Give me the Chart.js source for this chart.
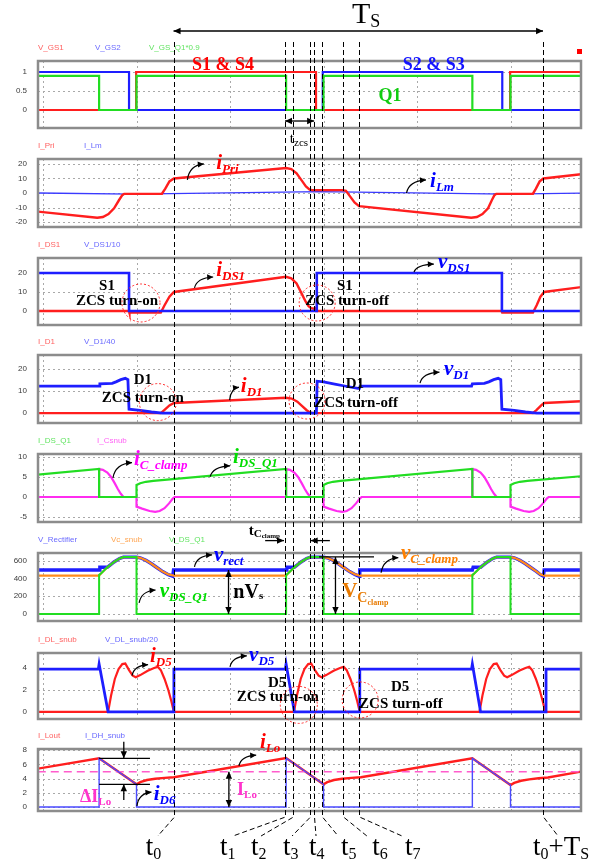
<!DOCTYPE html>
<html><head><meta charset="utf-8">
<script src="https://cdn.jsdelivr.net/npm/chart.js@4.4.0/dist/chart.umd.min.js"></script>
<style>
html,body{margin:0;padding:0;background:#fff;}
#wrap{position:relative;width:611px;height:865px;overflow:hidden;background:#fff;}
#wrap canvas{position:absolute;left:0;}
</style></head><body><div id="wrap"></div>
<script>
// ---------- time axis (µs) ----------
const T_MIN = -0.134, T_MAX = 14.385;
const gridTimes = [0, 2.5, 5, 7.5, 10, 12.5];
// switching instants t0 ... t7, t0+Ts
const eventSubs  = ['0', '1', '2', '3', '4', '5', '6', '7', '0'];
const eventTimes = [3.49, 6.47, 6.68, 7.13, 7.25, 7.46, 8.02, 8.45, 13.37];

// ---------- gate signals ----------
const vgs1T = [-0.14, 2.49, 2.49, 7.3, 7.3, 12.49, 12.49, 14.4];
const vgs1V = [0, 0, 1, 1, 0, 0, 1, 1];
const vgs2T = [-0.14, 2.3, 2.3, 7.48, 7.48, 12.28, 12.28, 14.4];
const vgs2V = [1, 1, 0, 0, 1, 1, 0, 0];
const vgsQ1T = [-0.14, 1.5, 1.5, 2.5, 2.5, 6.5, 6.5, 7.5, 7.5, 11.48, 11.48, 12.5, 12.5, 14.4];
const vgsQ1V = [0.9, 0.9, 0, 0, 0.9, 0.9, 0, 0, 0.9, 0.9, 0, 0, 0.9, 0.9];

// ---------- primary / magnetizing current ----------
const iPriT = [-0.14, 1.45, 1.6, 1.75, 1.9, 2.03, 2.12, 2.17, 3.18, 3.27, 3.38, 3.5, 6.5, 6.64, 6.78, 6.92, 7.03, 7.13, 7.2, 8.0, 8.1, 8.2, 8.33, 8.45, 11.45, 11.6, 11.75, 11.9, 12.0, 12.07, 12.12, 13.1, 13.18, 13.28, 13.38, 14.4];
const iPriV = [-12.8, -17, -16.5, -14.5, -10.5, -5, -1.5, -0.6, -0.5, 3, 8, 10, 17.2, 16.5, 13.5, 8.5, 4.5, 2.3, 2, 2, 1.5, -2, -6.5, -9, -17, -16.5, -14.5, -10.5, -5, -1.5, -0.6, -0.5, 3, 8, 10, 13];
const iLmT = [-0.14, 2.4, 7.4, 12.4, 14.4];
const iLmV = [0, -0.8, 0.9, -0.8, -0.1];

// ---------- switch S1 ----------
const vDs1T = [-0.14, 2.3, 2.3, 7.32, 7.32, 12.27, 12.27, 14.4];
const vDs1V = [20, 20, 0, 0, 20, 20, 0, 0];
const iDs1T = [-0.14, 2.3, 2.31, 3.15, 3.25, 3.38, 3.5, 6.5, 6.64, 6.78, 6.92, 7.02, 7.1, 7.17, 7.24, 7.3, 7.31, 12.27, 12.28, 13.1, 13.2, 13.3, 13.4, 14.4];
const iDs1V = [0, 0, -0.8, -0.8, 3, 7.5, 10, 18, 17.2, 14.5, 9, 5, 2.5, 1.5, 1.2, 1.6, 0, 0, -0.8, -0.8, 3, 7.5, 10, 12.6];

// ---------- rectifier diode D1 ----------
const vD1T = [-0.14, 1.5, 1.52, 1.85, 1.95, 2.08, 2.2, 2.27, 2.3, 2.6, 2.9, 3.2, 7.31, 7.33, 7.5, 7.8, 8.1, 8.42, 8.46, 8.48, 11.46, 11.48, 11.8, 11.92, 12.05, 12.17, 12.24, 12.27, 12.6, 12.9, 13.2, 14.4];
const vD1V = [12.3, 12.3, 13.3, 13.5, 14.2, 15.2, 15.8, 15.2, 1.8, 1.2, 0.5, 0, 0, 14.5, 14.2, 13.2, 12.2, 11.2, 11.2, 12.3, 12.3, 13.3, 13.5, 14.2, 15.2, 15.8, 15.2, 1.8, 1.2, 0.5, 0, 0];
const iD1T = [-0.14, 3.15, 3.25, 3.38, 3.5, 6.5, 6.65, 6.8, 6.93, 7.05, 7.14, 7.2, 13.1, 13.2, 13.32, 13.4, 14.4];
const iD1V = [0, 0, 1.5, 3.5, 4.6, 7, 6.6, 5.2, 3.2, 1.3, 0.3, 0, 0, 1.5, 3.5, 4.6, 5.4];

// ---------- clamp switch Q1 / clamp capacitor ----------
const iDsQ1T = [-0.14, 1.5, 1.5, 2.5, 2.5, 2.6, 2.75, 2.95, 3.1, 6.5, 6.5, 7.5, 7.5, 7.6, 7.75, 7.95, 8.1, 11.48, 11.48, 12.5, 12.5, 12.6, 12.75, 12.95, 13.1, 14.4];
const iDsQ1V = [5.6, 7, 0, 0, 3, 3.45, 3.8, 4.05, 4.15, 7, 0, 0, 3, 3.45, 3.8, 4.05, 4.15, 7, 0, 0, 3, 3.45, 3.8, 4.05, 4.15, 5.2];
const iCsnT = [-0.14, 1.5, 1.5, 1.6, 1.72, 1.82, 1.92, 2.0, 2.08, 2.15, 2.5, 2.5, 2.65, 2.85, 3.0, 3.12, 3.25, 3.37, 3.47, 3.52,
  6.5, 6.5, 6.6, 6.72, 6.82, 6.92, 7.0, 7.08, 7.15, 7.5, 7.5, 7.65, 7.85, 8.0, 8.12, 8.25, 8.37, 8.47, 8.52,
  11.48, 11.48, 11.58, 11.7, 11.8, 11.9, 11.98, 12.06, 12.13, 12.5, 12.5, 12.65, 12.85, 13.0, 13.12, 13.25, 13.37, 13.47, 13.52, 14.4];
const iCsnV = [0, 0, 7, 6.8, 6.1, 5.0, 3.4, 2.0, 0.8, 0, 0, -2.4, -2.9, -3.5, -3.7, -3.5, -2.8, -1.6, -0.4, 0,
  0, 7, 6.8, 6.1, 5.0, 3.4, 2.0, 0.8, 0, 0, -2.4, -2.9, -3.5, -3.7, -3.5, -2.8, -1.6, -0.4, 0,
  0, 7, 6.8, 6.1, 5.0, 3.4, 2.0, 0.8, 0, 0, -2.4, -2.9, -3.5, -3.7, -3.5, -2.8, -1.6, -0.4, 0, 0];

// ---------- rectifier / clamp voltages ----------
const vRectT = [-0.14, 1.5, 1.52, 1.72, 1.9, 2.05, 2.15, 2.5, 2.6, 2.75, 2.9, 3.05, 3.2, 3.35, 3.47, 3.49,
  6.5, 6.52, 6.72, 6.9, 7.05, 7.15, 7.5, 7.6, 7.75, 7.9, 8.05, 8.2, 8.35, 8.45, 8.47,
  11.48, 11.5, 11.7, 11.88, 12.03, 12.13, 12.5, 12.6, 12.75, 12.9, 13.05, 13.2, 13.3, 13.38, 13.4, 14.4];
const vRectV = [495, 495, 525, 525, 585, 625, 640, 640, 632, 605, 565, 520, 477, 442, 425, 495,
  495, 525, 525, 585, 625, 640, 640, 632, 605, 565, 520, 477, 442, 425, 495,
  495, 525, 525, 585, 625, 640, 640, 632, 605, 565, 520, 477, 442, 425, 495, 495];
const vcSnT = [-0.14, 1.5, 1.55, 1.72, 1.9, 2.05, 2.15, 2.5, 2.6, 2.75, 2.9, 3.05, 3.2, 3.35, 3.5,
  6.5, 6.55, 6.72, 6.9, 7.05, 7.15, 7.5, 7.6, 7.75, 7.9, 8.05, 8.2, 8.35, 8.47,
  11.48, 11.53, 11.7, 11.88, 12.03, 12.13, 12.5, 12.6, 12.75, 12.9, 13.05, 13.2, 13.3, 13.4, 14.4];
const vcSnV = [432, 432, 455, 525, 585, 625, 640, 640, 632, 605, 565, 520, 477, 445, 432,
  432, 455, 525, 585, 625, 640, 640, 632, 605, 565, 520, 477, 445, 432,
  432, 455, 525, 585, 625, 640, 640, 632, 605, 565, 520, 477, 445, 432, 432];
const vDsQ1T = [-0.14, 1.5, 1.5, 1.55, 1.72, 1.9, 2.05, 2.15, 2.5, 2.5, 6.5, 6.5, 6.55, 6.72, 6.9, 7.05, 7.15, 7.5, 7.5, 11.48, 11.48, 11.53, 11.7, 11.88, 12.03, 12.13, 12.5, 12.5, 14.4];
const vDsQ1V = [0, 0, 440, 455, 525, 585, 625, 640, 640, 0, 0, 440, 455, 525, 585, 625, 640, 640, 0, 0, 440, 455, 525, 585, 625, 640, 640, 0, 0];

// ---------- output snubber diode D5 ----------
const vDlT = [-0.14, 1.48, 1.5, 1.74, 3.5, 3.5, 6.48, 6.5, 6.72, 8.47, 8.47, 11.46, 11.48, 11.7, 13.45, 13.45, 14.4];
const vDlV = [3.9, 3.9, 4.35, 0, 0, 3.9, 3.9, 4.35, 0, 0, 3.9, 3.9, 4.35, 0, 0, 3.9, 3.9];
const iDlT = [-0.14, 1.74, 1.82, 1.92, 2.02, 2.12, 2.2, 2.3, 2.4, 2.48, 2.6, 2.8, 2.97, 3.07, 3.15, 3.25, 3.35, 3.43, 3.5,
  6.71, 6.79, 6.89, 6.99, 7.09, 7.17, 7.27, 7.37, 7.45, 7.57, 7.77, 7.94, 8.04, 8.12, 8.22, 8.32, 8.4, 8.47,
  11.67, 11.75, 11.85, 11.95, 12.05, 12.13, 12.23, 12.33, 12.41, 12.53, 12.73, 12.9, 13.0, 13.08, 13.18, 13.28, 13.36, 13.43, 14.4];
const iDlV = [0, 0, 1.5, 3.0, 3.9, 4.35, 4.4, 3.8, 3.3, 3.15, 3.35, 3.75, 4.0, 4.1, 3.8, 3.0, 2.0, 1.0, 0,
  0, 1.5, 3.0, 3.9, 4.35, 4.4, 3.8, 3.3, 3.15, 3.35, 3.75, 4.0, 4.1, 3.8, 3.0, 2.0, 1.0, 0,
  0, 1.5, 3.0, 3.9, 4.35, 4.4, 3.8, 3.3, 3.15, 3.35, 3.75, 4.0, 4.1, 3.8, 3.0, 2.0, 1.0, 0, 0];

// ---------- output inductor ----------
const iLoutT = [-0.14, 1.5, 2.5, 2.6, 2.78, 3.0, 3.25, 3.5, 6.5, 7.5, 7.6, 7.78, 8.0, 8.25, 8.5, 11.48, 12.5, 12.6, 12.78, 13.0, 13.25, 13.5, 14.4];
const iLoutV = [5.4, 6.85, 3.2, 3.5, 3.8, 3.98, 4.1, 4.2, 6.9, 3.2, 3.5, 3.8, 3.98, 4.1, 4.2, 6.85, 3.1, 3.4, 3.7, 3.9, 4.05, 4.15, 5.0];
const iDhT = [-0.14, 1.5, 1.5, 2.5, 2.5, 6.5, 6.5, 7.5, 7.5, 11.48, 11.48, 12.5, 12.5, 14.4];
const iDhV = [0, 0, 6.85, 3.2, 0, 0, 6.9, 3.2, 0, 0, 6.85, 3.1, 0, 0];
const iLoAvgT = [-0.14, 14.4];
const iLoAvgV = [4.95, 4.95];

// ---------- y tick values / labels ----------
const p1Ticks = [0, 0.5, 1],           p1Labels = ['0', '0.5', '1'];
const p2Ticks = [-20, -10, 0, 10, 20], p2Labels = ['-20', '-10', '0', '10', '20'];
const p3Ticks = [0, 10, 20],           p3Labels = ['0', '10', '20'];
const p4Ticks = [0, 10, 20],           p4Labels = ['0', '10', '20'];
const p5Ticks = [-5, 0, 5, 10],        p5Labels = ['-5', '0', '5', '10'];
const p6Ticks = [0, 200, 400, 600],    p6Labels = ['0', '200', '400', '600'];
const p7Ticks = [0, 2, 4],             p7Labels = ['0', '2', '4'];
const p8Ticks = [0, 2, 4, 6, 8],       p8Labels = ['0', '2', '4', '6', '8'];

// ---------- styling ----------
const RED = '#ff1e1e', BLUE = '#1e1eff', GREEN = '#22dd22', MAG = '#ff2cf0', ORANGE = '#ff8a1c', PINK = '#ff5ccc';
const SERIF = '"Liberation Serif","Times New Roman",serif';
const SANS = '"Liberation Sans",Arial,sans-serif';

function pts(t, v) { return t.map((x, i) => ({ x: x, y: v[i] })); }
function line(t, v, color, width, extra) {
  return Object.assign({ data: pts(t, v), borderColor: color, borderWidth: width, pointRadius: 0, fill: false, tension: 0 }, extra || {});
}

// first dataset in each list is drawn on top
const panels = [
  { top: 61, bottom: 128, min: -0.474, max: 1.29, ticks: p1Ticks, labels: p1Labels,
    legend: [['V_GS1', '#ff6262', 38], ['V_GS2', '#6a6aff', 95], ['V_GS_Q1*0.9', '#62e462', 149]],
    sets: [line(vgsQ1T, vgsQ1V, GREEN, 2.2), line(vgs2T, vgs2V, BLUE, 2.2), line(vgs1T, vgs1V, RED, 2.2)] },
  { top: 159, bottom: 227, min: -23.4, max: 23.4, ticks: p2Ticks, labels: p2Labels,
    legend: [['I_Pri', '#ff6262', 38], ['I_Lm', '#6a6aff', 84]],
    sets: [line(iPriT, iPriV, RED, 2.4), line(iLmT, iLmV, '#3a3aff', 1.3)] },
  { top: 258, bottom: 325, min: -7.4, max: 27.9, ticks: p3Ticks, labels: p3Labels,
    legend: [['I_DS1', '#ff6262', 38], ['V_DS1/10', '#6a6aff', 84]],
    sets: [line(vDs1T, vDs1V, BLUE, 2.6), line(iDs1T, iDs1V, RED, 2.4)] },
  { top: 355, bottom: 423, min: -4.5, max: 26.4, ticks: p4Ticks, labels: p4Labels,
    legend: [['I_D1', '#ff6262', 38], ['V_D1/40', '#6a6aff', 84]],
    sets: [line(vD1T, vD1V, BLUE, 2.8), line(iD1T, iD1V, RED, 2.4)] },
  { top: 454, bottom: 522, min: -6.25, max: 10.75, ticks: p5Ticks, labels: p5Labels,
    legend: [['I_DS_Q1', '#62e462', 38], ['I_Csnub', '#ff62f4', 97]],
    sets: [line(iDsQ1T, iDsQ1V, GREEN, 2.2), line(iCsnT, iCsnV, MAG, 2.2)] },
  { top: 553, bottom: 621, min: -79, max: 686, ticks: p6Ticks, labels: p6Labels,
    legend: [['V_Rectifier', '#6a6aff', 38], ['Vc_snub', '#ffa552', 111], ['V_DS_Q1', '#62e462', 169]],
    sets: [line(vDsQ1T, vDsQ1V, GREEN, 2), line(vcSnT, vcSnV, ORANGE, 2.2), line(vRectT, vRectV, BLUE, 3.4)] },
  { top: 653, bottom: 719, min: -0.64, max: 5.36, ticks: p7Ticks, labels: p7Labels,
    legend: [['I_DL_snub', '#ff6262', 38], ['V_DL_snub/20', '#6a6aff', 105]],
    sets: [line(vDlT, vDlV, BLUE, 2.8), line(iDlT, iDlV, RED, 2.2)] },
  { top: 749, bottom: 811, min: -0.56, max: 8.17, ticks: p8Ticks, labels: p8Labels,
    legend: [['I_Lout', '#ff6262', 38], ['I_DH_snub', '#6a6aff', 85]],
    sets: [line(iDhT, iDhV, '#4a4aff', 1.4), line(iLoAvgT, iLoAvgV, PINK, 1.5, { borderDash: [8, 5] }), line(iLoutT, iLoutV, RED, 2.4)] }
];

// dotted grid and tick labels behind the traces, grey frame on top of them
const panelDeco = {
  id: 'panelDeco',
  beforeDatasetsDraw(chart, args, opts) {
    const ctx = chart.ctx, a = chart.chartArea, xs = chart.scales.x, ys = chart.scales.y;
    const p = opts.panel;
    ctx.save();
    ctx.strokeStyle = '#a9a9a9'; ctx.lineWidth = 1; ctx.setLineDash([2, 3]);
    gridTimes.forEach(t => {
      const px = Math.round(xs.getPixelForValue(t)) + 0.5;
      ctx.beginPath(); ctx.moveTo(px, a.top); ctx.lineTo(px, a.bottom); ctx.stroke();
    });
    p.ticks.forEach(v => {
      const py = Math.round(ys.getPixelForValue(v)) + 0.5;
      ctx.beginPath(); ctx.moveTo(a.left, py); ctx.lineTo(a.right, py); ctx.stroke();
    });
    ctx.setLineDash([]);
    ctx.fillStyle = '#3a3a3a'; ctx.font = `8px ${SANS}`; ctx.textAlign = 'right'; ctx.textBaseline = 'middle';
    p.ticks.forEach((v, i) => ctx.fillText(p.labels[i], a.left - 11, ys.getPixelForValue(v)));
    ctx.restore();
  },
  afterDatasetsDraw(chart) {
    const ctx = chart.ctx, a = chart.chartArea;
    ctx.save();
    ctx.strokeStyle = '#8c8c8c'; ctx.lineWidth = 2.5;
    ctx.strokeRect(a.left, a.top, a.right - a.left, a.bottom - a.top);
    ctx.restore();
  }
};

const wrap = document.getElementById('wrap');
const charts = [], tops = [];
panels.forEach(p => {
  const cv = document.createElement('canvas');
  const top = p.top - 8, h = p.bottom - p.top + 16;
  cv.width = 611; cv.height = h;
  cv.style.top = top + 'px'; cv.style.width = '611px'; cv.style.height = h + 'px';
  wrap.appendChild(cv);
  tops.push(top);
  charts.push(new Chart(cv, {
    type: 'line',
    data: { datasets: p.sets },
    options: {
      responsive: false, maintainAspectRatio: false, animation: false, events: [],
      layout: { padding: { left: 38, right: 30, top: 8, bottom: 8 } },
      plugins: { legend: { display: false }, tooltip: { enabled: false }, panelDeco: { panel: p } },
      scales: {
        x: { type: 'linear', display: false, min: T_MIN, max: T_MAX },
        y: { type: 'linear', display: false, min: p.min, max: p.max }
      }
    },
    plugins: [panelDeco]
  }));
});

// ---------- annotation layer ----------
const ov = document.createElement('canvas');
ov.width = 611; ov.height = 865; ov.style.top = '0px'; ov.style.zIndex = 10;
wrap.appendChild(ov);
const g = ov.getContext('2d');
const xs = charts[0].scales.x;
const X = t => xs.getPixelForValue(t);
const Y = (k, v) => tops[k] + charts[k].scales.y.getPixelForValue(v);

const fR = s => `${s}px ${SERIF}`, fB = s => `bold ${s}px ${SERIF}`, fBI = s => `bold italic ${s}px ${SERIF}`;

function rich(x, y, parts, color, align) {
  g.save(); g.fillStyle = color; g.textBaseline = 'alphabetic';
  let w = 0;
  parts.forEach(p => { g.font = p[1]; w += g.measureText(p[0]).width; });
  let cx = align === 'center' ? x - w / 2 : x;
  parts.forEach(p => { g.font = p[1]; g.fillText(p[0], cx, y + (p[2] || 0)); cx += g.measureText(p[0]).width; });
  g.restore();
}
function head(x, y, ang, len, w) {
  len = len || 7; w = w || 3.2;
  const c = Math.cos(ang), s = Math.sin(ang);
  g.beginPath(); g.moveTo(x, y);
  g.lineTo(x - len * c + w * s, y - len * s - w * c);
  g.lineTo(x - len * c - w * s, y - len * s + w * c);
  g.closePath(); g.fill();
}
function arrow(x1, y1, x2, y2, both) {
  g.save(); g.strokeStyle = '#000'; g.fillStyle = '#000'; g.lineWidth = 1.3; g.setLineDash([]);
  g.beginPath(); g.moveTo(x1, y1); g.lineTo(x2, y2); g.stroke();
  const a = Math.atan2(y2 - y1, x2 - x1);
  head(x2, y2, a);
  if (both) head(x1, y1, a + Math.PI);
  g.restore();
}
function hook(k, t1, v1, t2, v2) {
  const x1 = X(t1), y1 = Y(k, v1), x2 = X(t2), y2 = Y(k, v2);
  const cx = x1 + (x2 - x1) * 0.12, cy = y2 + (y1 - y2) * 0.08;
  g.save(); g.strokeStyle = '#000'; g.fillStyle = '#000'; g.lineWidth = 1.2;
  g.beginPath(); g.moveTo(x1, y1); g.quadraticCurveTo(cx, cy, x2, y2); g.stroke();
  head(x2, y2, Math.atan2(y2 - cy, x2 - cx), 6, 3);
  g.restore();
}
function ring(k, t, v, r) {
  g.save(); g.strokeStyle = '#ff2a2a'; g.lineWidth = 1; g.setLineDash([2, 2]);
  g.beginPath(); g.arc(X(t), Y(k, v), r, 0, Math.PI * 2); g.stroke(); g.restore();
}
function wave(k, t, v, main, sub, color) {
  rich(X(t), Y(k, v), [[main, fBI(21)], [sub, fBI(13), 4]], color);
}
function note(k, t, v, text) { rich(X(t), Y(k, v), [[text, fB(15)]], '#000', 'center'); }

// legends above each panel
panels.forEach(p => {
  g.font = `8px ${SANS}`; g.textBaseline = 'middle';
  p.legend.forEach(([txt, col, x]) => { g.fillStyle = col; g.fillText(txt, x, p.top - 13); });
});
g.fillStyle = '#ff0000'; g.fillRect(577, 49, 5, 5);

// switching period
rich(352, 23, [['T', fR(30)], ['S', fR(18), 4]], '#000');
arrow(X(eventTimes[0]), 31, X(eventTimes[8]), 31, true);

// dashed markers of the switching instants and their labels
const labelT = [2.75, 4.73, 5.56, 6.42, 7.11, 7.97, 8.8, 9.68, 13.1];
const linkT  = [3.07, 5.08, 5.83, 6.66, 7.3, 7.89, 8.66, 9.6, 13.77];
g.save(); g.strokeStyle = '#000'; g.lineWidth = 1; g.setLineDash([5, 3]);
eventTimes.forEach((t, i) => {
  const x = Math.round(X(t)) + 0.5;
  g.beginPath(); g.moveTo(x, 42); g.lineTo(x, 817); g.lineTo(X(linkT[i]), 836); g.stroke();
});
g.restore();
eventTimes.forEach((t, i) => {
  const parts = [['t', fR(27)], [eventSubs[i], fR(16), 4]];
  if (i === 8) parts.push(['+T', fR(27)], ['S', fR(16), 4]);
  rich(X(labelT[i]), 855, parts, '#000');
});

// panel 1
rich(X(4.81), Y(0, 1.05), [['S1 & S4', fB(18)]], '#ff0000', 'center');
rich(X(10.45), Y(0, 1.05), [['S2 & S3', fB(18)]], '#1414ff', 'center');
rich(X(9.28), Y(0, 0.24), [['Q1', fB(18)]], '#11cc11', 'center');
arrow(X(eventTimes[1]), Y(0, -0.29), X(eventTimes[4]), Y(0, -0.29), true);
rich(X(6.6), Y(0, -0.87), [['t', fR(15)], ['zcs', fR(11), 3]], '#000');

// panel 2
wave(1, 4.63, 16.6, 'i', 'Pri', '#ff0000'); hook(1, 3.86, 9, 4.3, 20);
wave(1, 10.35, 4.1, 'i', 'Lm', '#0000ff'); hook(1, 9.72, 0, 10.24, 9);

// panel 3
wave(2, 4.63, 18.6, 'i', 'DS1', '#ff0000'); hook(2, 4.05, 12.1, 4.55, 17.9);
wave(2, 10.56, 22.5, 'v', 'DS1', '#0000ff'); hook(2, 9.92, 20.5, 10.45, 24.7);
note(2, 1.71, 11, 'S1'); note(2, 1.98, 3.2, 'ZCS turn-on'); ring(2, 2.62, 4.2, 19);
note(2, 8.07, 11, 'S1'); note(2, 8.13, 3.2, 'ZCS turn-off'); ring(2, 7.33, 4.2, 18);

// panel 4
wave(3, 5.29, 9.5, 'i', 'D1', '#ff0000'); hook(3, 4.99, 5.9, 5.24, 11.8);
wave(3, 10.72, 17.3, 'v', 'D1', '#0000ff'); hook(3, 10.08, 13.6, 10.6, 18.6);
note(3, 2.67, 13.2, 'D1'); note(3, 2.67, 5, 'ZCS turn-on'); ring(3, 3.07, 5, 18.5);
note(3, 8.34, 11.4, 'D1'); note(3, 8.37, 2.7, 'ZCS turn-off'); ring(3, 7.06, 5.5, 18);

// panel 5
wave(4, 2.43, 8.1, 'i', 'C_clamp', '#ff00ff'); hook(4, 1.87, 4.8, 2.38, 8.6);
wave(4, 5.08, 8.6, 'i', 'DS_Q1', '#00dd00'); hook(4, 4.47, 5.1, 5.0, 7.8);
rich(X(5.5), Y(4, -9.4), [['t', fB(15)], ['C', fB(11), 2], ['clamp', fB(7), 3]], '#000');
arrow(X(5.94), Y(4, -10.9), X(eventTimes[1]) - 1, Y(4, -10.9));
arrow(X(7.67), Y(4, -10.9), X(eventTimes[3]) + 1, Y(4, -10.9));

// panel 6
wave(5, 4.57, 596, 'v', 'rect', '#0000ff'); hook(5, 4.05, 530, 4.52, 665);
wave(5, 3.12, 191, 'v', 'DS_Q1', '#00dd00'); hook(5, 2.57, 124, 3.01, 270);
wave(5, 9.57, 619, 'v', 'C_clamp', '#ff8000'); hook(5, 9.04, 464, 9.5, 634);
rich(X(5.09), Y(5, 180), [['nV', fB(20)], ['s', fB(11), 1]], '#000');
arrow(X(4.96), Y(5, 495), X(4.96), Y(5, 0), true);
rich(X(8.0), Y(5, 191), [['V', fB(21)], ['C', fB(14), 5], ['clamp', fB(8), 8]], '#e87a00');
arrow(X(7.82), Y(5, 640), X(7.82), Y(5, 0), true);
g.save(); g.strokeStyle = '#000'; g.lineWidth = 1.2;
g.beginPath(); g.moveTo(X(7.38), Y(5, 642)); g.lineTo(X(8.85), Y(5, 642)); g.stroke(); g.restore();

// panel 7
wave(6, 2.86, 4.55, 'i', 'D5', '#ff0000'); hook(6, 2.38, 3.3, 2.81, 4.3);
wave(6, 5.51, 4.6, 'v', 'D5', '#0000ff'); hook(6, 5.0, 4.1, 5.45, 5.1);
note(6, 6.26, 2.27, 'D5'); note(6, 6.28, 1.0, 'ZCS turn-on'); ring(6, 6.84, 0.64, 18.5);
note(6, 9.55, 1.9, 'D5'); note(6, 9.57, 0.36, 'ZCS turn-off'); ring(6, 8.48, 1.09, 18);

// panel 8
wave(7, 5.8, 8.3, 'i', 'Lo', '#ff0000'); hook(7, 5.24, 5.8, 5.7, 7.3);
wave(7, 2.96, 1.0, 'i', 'D6', '#0000ff'); hook(7, 2.51, 0.14, 2.9, 2.1);
rich(X(0.99), Y(7, 0.7), [['\u0394I', fB(18)], ['Lo', fB(11), 3]], '#ff33cc');
rich(X(5.19), Y(7, 1.7), [['I', fB(18)], ['Lo', fB(11), 3]], '#ff33cc');
g.save(); g.strokeStyle = '#000'; g.lineWidth = 1.2;
[iLoutV[1], iLoutV[2]].forEach(v => { g.beginPath(); g.moveTo(X(1.5), Y(7, v)); g.lineTo(X(2.86), Y(7, v)); g.stroke(); });
g.restore();
arrow(X(2.16), Y(7, 9.2), X(2.16), Y(7, iLoutV[1]));
arrow(X(2.16), Y(7, 1.0), X(2.16), Y(7, iLoutV[2]));
arrow(X(4.97), Y(7, iLoAvgV[0]), X(4.97), Y(7, 0), true);
</script></body></html>
